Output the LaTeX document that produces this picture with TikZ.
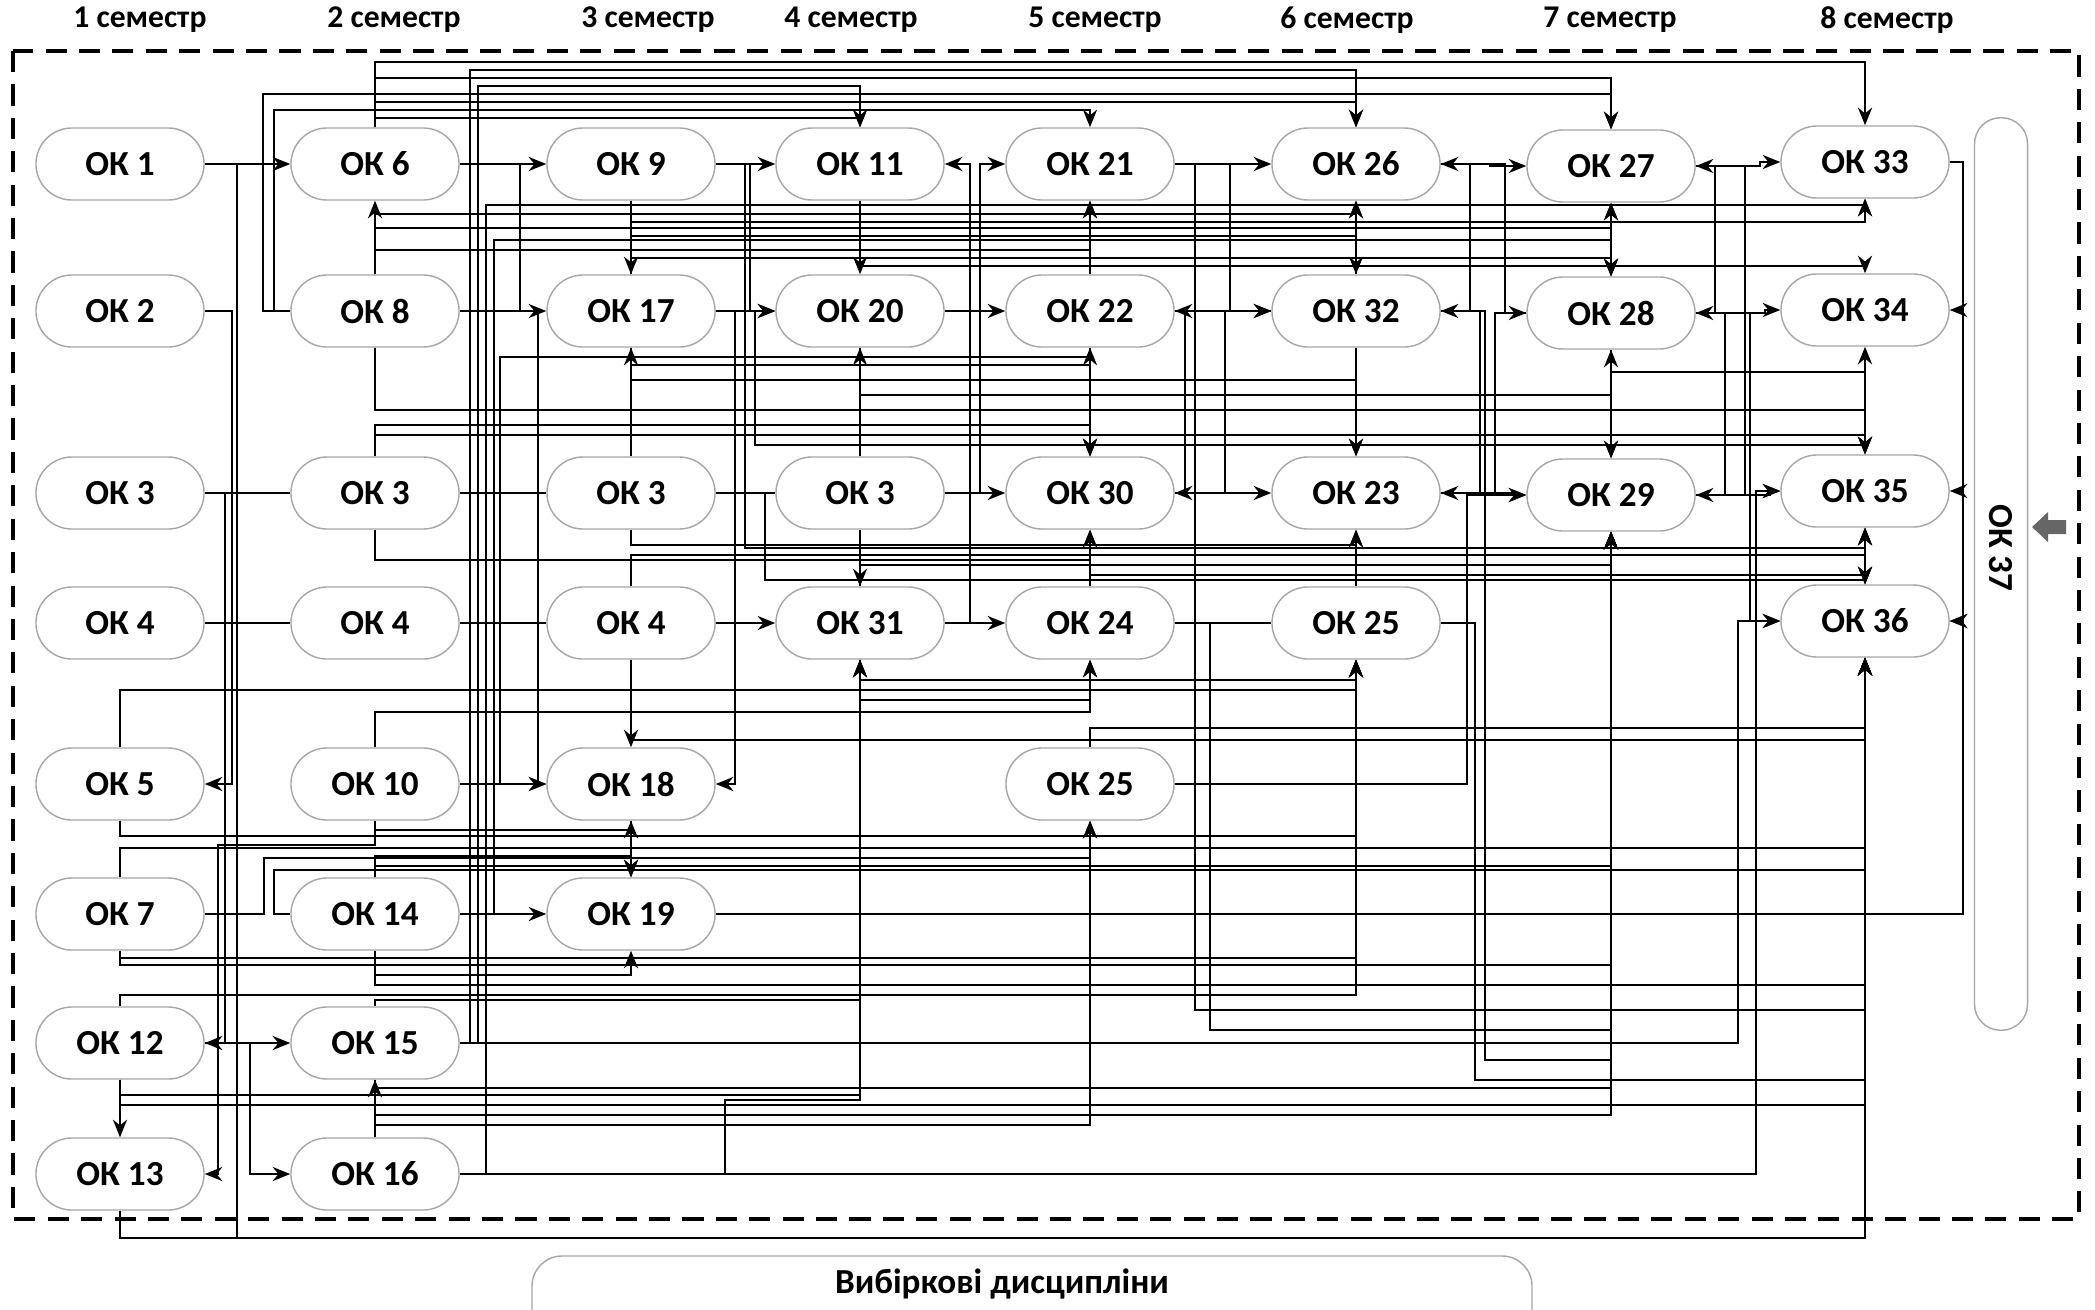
\documentclass[tikz,border=0pt]{standalone}
\usepackage{fontspec}
\setmainfont{Carlito}
\usetikzlibrary{arrows.meta}
\tikzset{
  box/.style={draw=gray!70, line width=0.4pt, rounded corners=0.36cm,
    minimum width=1.68cm, minimum height=0.72cm, inner sep=0pt,
    font=\bfseries\fontsize{10}{12}\selectfont},
  sem/.style={font=\bfseries\fontsize{9}{11}\selectfont},
  link/.style={line width=0.7pt, -{Stealth[length=5pt,width=4pt]}},
  dlink/.style={line width=0.7pt, {Stealth[length=5pt,width=4pt]}-{Stealth[length=5pt,width=4pt]}},
  plain/.style={line width=0.7pt},
}
\begin{document}
\begin{tikzpicture}[x=0.01cm, y=-0.01cm]
    \useasboundingbox (0,0) rectangle (2095,1309);

    % semesters
    \foreach \x/\s in {140/1, 394/2, 648/3, 851/4, 1095/5, 1347/6, 1610/7, 1887/8}
        \node[sem] (sem\s) at (\x,20) {\s~семестр};
    \draw[line width=1.1pt, dash pattern=on 6pt off 3.5pt] (13,51) rectangle (2079,1219);

    % courses
    \foreach \n/\x/\y/\t in {ok1/120/164/1, ok2/120/311/2, ok3a/120/493/3, ok4a/120/623/4,
        ok5/120/784/5, ok7/120/914/7, ok12/120/1043/12, ok13/120/1174/13,
        ok6/375/164/6, ok8/375/311/8, ok3b/375/493/3, ok4b/375/623/4,
        ok10/375/784/10, ok14/375/914/14, ok15/375/1043/15, ok16/375/1174/16,
        ok9/631/164/9, ok17/631/311/17, ok3c/631/493/3, ok4c/631/623/4,
        ok18/631/784/18, ok19/631/914/19,
        ok11/860/164/11, ok20/860/311/20, ok3d/860/493/3, ok31/860/623/31,
        ok21/1090/164/21, ok22/1090/311/22, ok30/1090/493/30, ok24/1090/623/24, ok25b/1090/784/25,
        ok26/1356/164/26, ok32/1356/311/32, ok23/1356/493/23, ok25/1356/623/25,
        ok27/1611/166/27, ok28/1611/313/28, ok29/1611/495/29,
        ok33/1865/162/33, ok34/1865/310/34, ok35/1865/491/35, ok36/1865/621/36}
        \node[box] (\n) at (\x,\y) {ОК \t};

    % OK 37 and electives
    \node[draw=gray!70, line width=0.4pt, rounded corners=0.26cm, minimum width=0.53cm,
        minimum height=9.12cm] (ok37) at (2001,574) {};
    \node[font=\bfseries\fontsize{10}{12}\selectfont, rotate=-90] (ok37t) at (2001,548) {ОК 37};
    \fill[gray!80!black] (2032,527) -- (2048,512) -- (2048,520) -- (2066,520)
        -- (2066,534) -- (2048,534) -- (2048,542) -- cycle;
    \draw[gray!70, line width=0.4pt, rounded corners=0.3cm] (532,1340) rectangle (1532,1256);
    \node[font=\bfseries\fontsize{10}{12}\selectfont] (vyb) at (1002,1284) {Вибіркові дисципліни};

    % straight links
    \foreach \s/\t in {ok9.south/ok17.north, ok11.south/ok20.north, ok22.north/ok21.south,
        ok8.north/ok6.south, ok32.north/ok26.south, ok3d.north/ok20.south,
        ok22.south/ok30.north, ok32.south/ok23.north, ok3d.south/ok31.north,
        ok24.north/ok30.south, ok25.north/ok23.south, ok4c.south/ok18.north,
        ok18.south/ok19.north, ok16.north/ok15.south, ok12.south/ok13.north}
        \draw[link] (\s) -- (\t);
    \foreach \s/\t in {ok27.south/ok28.north, ok28.south/ok29.north, ok35.south/ok36.north}
        \draw[dlink] (\s) -- (\t);
    \foreach \s/\t in {ok3a/ok3b, ok3b/ok3c, ok3c/ok3d, ok4a/ok4b, ok4b/ok4c, ok24/ok25}
        \draw[plain] (\s.east) -- (\t.west);

    % links along a horizontal bus
    \foreach \s/\by/\t in {ok6.north/62/ok33.north, ok6.north/78/ok27.north,
        ok6.north/102/ok26.north, ok6.north/118/ok11.north,
        ok8.north/214/ok26.south, ok8.north/228/ok27.south, ok8.north/250/ok21.south,
        ok17.north/222/ok33.south, ok17.north/236/ok32.north,
        ok9.south/258/ok28.north, ok11.south/266/ok34.north,
        ok17.south/365/ok30.north, ok17.south/380/ok23.north, ok20.south/395/ok29.north,
        ok8.south/410/ok35.north, ok3b.north/425/ok22.south, ok3c.north/440/ok17.south,
        ok3b.north/435/ok34.south, ok28.south/372/ok35.north,
        ok3c.south/545/ok23.south, ok4c.north/555/ok35.south, ok31.north/565/ok29.south,
        ok24.north/575/ok36.north, ok3b.south/560/ok30.south,
        ok31.south/680/ok25.south, ok31.south/700/ok24.south, ok5.north/690/ok25.south,
        ok10.north/712/ok24.south, ok25b.north/728/ok36.south, ok4c.south/740/ok36.south,
        ok5.south/836/ok25.south, ok7.north/848/ok36.south, ok10.south/830/ok19.north,
        ok14.north/856/ok18.south, ok14.north/866/ok29.south,
        ok7.south/958/ok25.south, ok7.south/965/ok29.south,
        ok14.south/975/ok19.south, ok14.south/985/ok36.south,
        ok12.north/995/ok25.south, ok15.north/1000/ok31.south,
        ok15.south/1088/ok29.south,
        ok12.south/1095/ok31.south, ok12.south/1105/ok36.south,
        ok16.north/1115/ok29.south, ok16.north/1125/ok25b.south,
        ok13.south/1238/ok36.south}
        \draw[link] (\s) -- (\s |- 0,\by) -| (\t);

    % links along a vertical channel
    \foreach \s/\cx/\t in {ok1.east/270/ok6.west, ok6.east/530/ok9.west, ok6.east/520/ok17.west,
        ok8.east/538/ok18.west, ok10.east/520/ok18.west, ok14.east/525/ok19.west,
        ok9.east/740/ok11.west, ok9.east/750/ok20.west, ok17.east/765/ok20.west,
        ok17.east/735/ok18.east, ok4c.east/760/ok31.west,
        ok20.east/990/ok22.west, ok31.east/970/ok11.east, ok3d.east/980/ok21.west,
        ok3d.east/995/ok30.west, ok31.east/985/ok24.west,
        ok21.east/1240/ok26.west, ok21.east/1230/ok32.west, ok22.east/1215/ok32.west,
        ok30.east/1250/ok23.west, ok30.east/1185/ok22.east, ok32.west/1225/ok30.east,
        ok32.east/1470/ok26.east, ok23.east/1480/ok32.east, ok26.east/1505/ok28.west,
        ok28.west/1495/ok23.east, ok23.east/1515/ok29.west, ok26.east/1490/ok27.west,
        ok25b.east/1467/ok29.west,
        ok28.east/1715/ok27.east, ok29.east/1725/ok28.east, ok27.east/1745/ok29.east,
        ok27.east/1760/ok33.west, ok28.east/1765/ok34.west, ok29.east/1770/ok35.west,
        ok28.east/1750/ok36.west, ok15.east/1738/ok36.west, ok16.east/1756/ok35.west,
        ok33.east/1963/ok34.east, ok33.east/1963/ok35.east, ok33.east/1963/ok36.east,
        ok19.east/1963/ok36.east,
        ok12.east/275/ok15.west, ok12.east/250/ok16.west, ok2.east/232/ok5.east,
        ok3a.east/225/ok12.east}
        \draw[link] (\s) -- (\s -| \cx,0) |- (\t);

    % channel, then bus
    \foreach \s/\cx/\by/\t in {ok8.west/263/94/ok27.north, ok8.west/274/110/ok21.north,
        ok15.east/470/70/ok26.north, ok15.east/478/86/ok11.north,
        ok16.east/486/205/ok33.south, ok14.east/494/240/ok28.north,
        ok10.east/500/357/ok30.north,
        ok9.east/745/548/ok35.south, ok17.east/755/445/ok35.north, ok3c.east/765/580/ok36.north,
        ok15.east/1611/1043/ok29.south, ok16.east/725/1100/ok31.south,
        ok7.east/264/858/ok25b.south, ok14.west/274/870/ok36.south,
        ok21.east/1195/1010/ok36.south, ok24.east/1210/1030/ok29.south,
        ok25.east/1475/1080/ok36.south, ok32.east/1485/1060/ok29.south,
        ok1.east/237/1238/ok36.south}
        \draw[link] (\s) -| (\cx,\by) -| (\t);

    % bus, then channel
    \draw[link] (ok10.south) |- (218,845) |- (ok13.east);
\end{tikzpicture}
\end{document}
